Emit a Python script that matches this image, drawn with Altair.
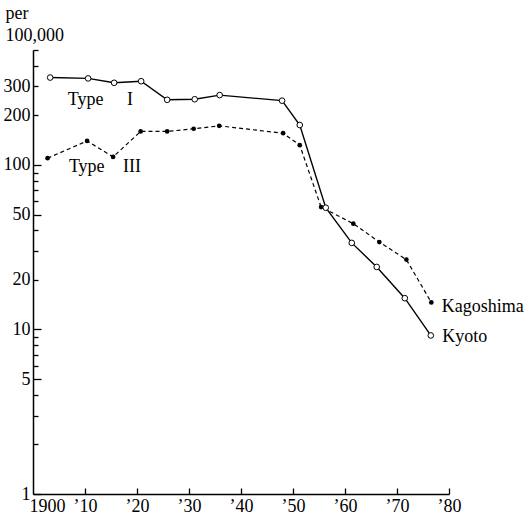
import altair as alt
import pandas as pd

# --- data ---
years_kyoto = [1903.3, 1910.6, 1915.6, 1920.8, 1925.8, 1931.1, 1935.9,
               1947.9, 1951.3, 1956.3, 1961.3, 1966.1, 1971.5, 1976.5]
kyoto = [340, 336, 316, 323, 249, 251, 266, 246, 175, 55, 33.6, 24, 15.5, 9.2]

years_kago = [1902.8, 1910.4, 1915.4, 1920.7, 1925.8, 1930.9, 1935.8,
              1948.1, 1951.3, 1955.4, 1961.6, 1966.6, 1971.8, 1976.6]
kagoshima = [110, 140, 112, 160, 160, 166, 173, 156, 132, 55.5, 44, 34, 26.6, 14.6]

x_tick_years = [1900, 1910, 1920, 1930, 1940, 1950, 1960, 1970, 1980]
y_label_values = [1, 5, 10, 20, 50, 100, 200, 300]
y_tick_values = [1, 2, 3, 4, 5, 6, 7, 8, 9, 10, 20, 30, 40, 50, 60, 70, 80, 90,
                 100, 200, 300, 400, 500]

annotations = pd.DataFrame({
    "text": ["Type", "I", "Type", "III", "Kagoshima", "Kyoto"],
    "year": [1906.7, 1918.1, 1906.9, 1917.3, 1978.6, 1978.7],
    "value": [232, 232, 90.6, 90.6, 12.7, 8.37],
})

df_kyoto = pd.DataFrame({"year": years_kyoto, "value": kyoto})
df_kago = pd.DataFrame({"year": years_kago, "value": kagoshima})

FONT = "Liberation Serif"
FS = 18
W, H = 416, 444

xscale = alt.Scale(domain=[1900, 1980], nice=False, zero=False)
yscale = alt.Scale(type="log", domain=[1, 500], nice=False)

# visible axes: domain line + labels
xaxis = alt.Axis(
    values=x_tick_years,
    labelExpr="datum.value == 1900 ? '1900' : '\u2019' + slice(toString(datum.value), 2)",
    labelAlign={"condition": {"test": "datum.value == 1900", "value": "left"}, "value": "center"},
    labelOffset={"condition": {"test": "datum.value == 1900", "value": -4}, "value": 0},
    ticks=False, tickSize=0, grid=False, labelPadding=3,
    labelFont=FONT, labelFontSize=FS, labelColor="black",
    domainColor="black", domainWidth=1.5, title=None,
)
yaxis = alt.Axis(
    values=y_label_values,
    labelExpr="datum.value",
    ticks=False, tickSize=0, grid=False, labelPadding=3,
    labelFont=FONT, labelFontSize=FS, labelColor="black",
    domainColor="black", domainWidth=1.5,
    title=["per", "100,000"], titleAngle=0, titleAlign="left",
    titleBaseline="alphabetic", titleX=-28, titleY=-32,
    titleFont=FONT, titleFontSize=FS, titleFontWeight="normal",
    titleColor="black", titleLineHeight=22,
)

# inward-pointing ticks: opposite-side axes moved onto the visible axes
xtick_axis = alt.Axis(
    orient="top", offset=-H, values=x_tick_years[1:], labels=False, domain=False,
    grid=False, ticks=True, tickSize=6, tickColor="black", tickWidth=1.3, title=None,
)
ytick_axis = alt.Axis(
    orient="right", offset=-W, values=y_tick_values, labels=False, domain=False,
    grid=False, ticks=True,
    tickSize={"condition": {"test": "indexof([1, 5, 10, 50, 100], datum.value) >= 0",
                            "value": 8}, "value": 5},
    tickColor="black", tickWidth=1.3, title=None,
)

def X(f, axis=None):
    return alt.X(f, type="quantitative", scale=xscale, axis=axis)

def Y(f, axis=None):
    return alt.Y(f, type="quantitative", scale=yscale, axis=axis)

kyoto_line = alt.Chart(df_kyoto).mark_line(color="black", strokeWidth=1.4).encode(
    x=X("year", xaxis), y=Y("value", yaxis))
kyoto_pts = alt.Chart(df_kyoto).mark_point(
    shape="circle", filled=True, fill="white", stroke="black",
    strokeWidth=1, size=32, opacity=1).encode(x=X("year"), y=Y("value"))

kago_line = alt.Chart(df_kago).mark_line(
    color="black", strokeWidth=1.2, strokeDash=[4, 3]).encode(
    x=X("year"), y=Y("value"))
kago_pts = alt.Chart(df_kago).mark_circle(color="black", size=22, opacity=1).encode(
    x=X("year"), y=Y("value"))

tick_layer = alt.Chart(df_kyoto).mark_point(opacity=0).encode(
    x=X("year", xtick_axis), y=Y("value", ytick_axis))

labels = alt.Chart(annotations).mark_text(
    font=FONT, fontSize=FS, color="black", align="left", baseline="alphabetic"
).encode(x=X("year"), y=Y("value"), text="text:N")

chart = alt.layer(
    kyoto_line, tick_layer, kago_line, kago_pts, kyoto_pts, labels
).resolve_axis(
    x="independent", y="independent"
).properties(
    width=W, height=H,
    autosize=alt.AutoSizeParams(type="none"),
    padding={"left": 33, "top": 50, "right": 83, "bottom": 29},
    background="white",
).configure_view(stroke=None)

chart.save("out.html", embed_options={"renderer": "svg", "actions": False})
